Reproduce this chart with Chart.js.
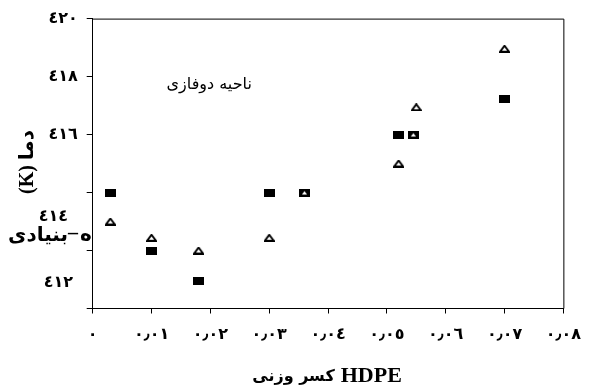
<!DOCTYPE html>
<html>
<head>
<meta charset="utf-8">
<script src="https://cdn.jsdelivr.net/npm/chart.js@4/dist/chart.umd.min.js"></script>
<style>
  html, body { margin: 0; padding: 0; background: #fff; }
  #wrap { width: 593px; height: 387px; position: relative; }
</style>
</head>
<body>
<div id="wrap"><canvas id="c" width="593" height="387"></canvas></div>
<script>
// ---- data ----
const squareX = [0.003, 0.010, 0.018, 0.030, 0.036, 0.052, 0.0545, 0.070];
const squareY = [414.0, 412.0, 410.95, 414.0, 414.0, 416.0, 416.0, 417.23];
const triangleX = [0.003, 0.010, 0.018, 0.030, 0.036, 0.052, 0.0545, 0.055, 0.070];
const triangleY = [413.0, 412.44, 412.0, 412.44, 414.0, 415.0, 416.0, 416.94, 418.96];

const xTickValues = [0, 0.01, 0.02, 0.03, 0.04, 0.05, 0.06, 0.07, 0.08];
const xTickLabels = ['٠', '٠٫٠١', '٠٫٠٢', '٠٫٠٣', '٠٫٠٤', '٠٫٠٥', '٠٫٠٦', '٠٫٠٧', '٠٫٠٨'];
const yTickValues = [410, 412, 414, 416, 418, 420];
const yTickLabelsOnAxis = ['', '', '', '٤١٦', '٤١٨', '٤٢٠'];
// labels that appear displaced in the reference
const yShiftedLabels = ['٤١٤', '٤١٢'];
const yShiftedLabelValues = [413.17, 410.89];

const xTitleFa = 'کسر وزنی';
const xTitleEn = 'HDPE';
const yTitleRotated = '(K) دما';
const yTitleFlat = 'بنیادی';
const yTitleDash = '–';
const yTitleCut = 'ه';
const noteText = 'ناحیه دوفازی';
const notePos = [0.0198, 417.73];

// ---- marker images ----
function makeSquare() {
  const c = document.createElement('canvas');
  c.width = 11; c.height = 8;
  const g = c.getContext('2d');
  g.fillStyle = '#000';
  g.fillRect(0, 0, 11, 8);
  return c;
}
function makeTriangle() {
  const c = document.createElement('canvas');
  c.width = 11; c.height = 8;
  const g = c.getContext('2d');
  g.beginPath();
  g.moveTo(5.5, 1);
  g.lineTo(10, 7);
  g.lineTo(1, 7);
  g.closePath();
  g.fillStyle = '#fff';
  g.fill();
  g.lineWidth = 2;
  g.strokeStyle = '#000';
  g.lineJoin = 'miter';
  g.stroke();
  return c;
}

const FONT = "'Liberation Serif', 'DejaVu Sans', serif";
const FA_FONT = "'DejaVu Sans', sans-serif";

const extras = {
  id: 'extras',
  afterDraw(chart) {
    const ctx = chart.ctx;
    const a = chart.chartArea;
    const xs = chart.scales.x, ys = chart.scales.y;
    ctx.save();
    // frame (top and right)
    ctx.strokeStyle = '#000';
    ctx.lineWidth = 1;
    ctx.beginPath();
    ctx.moveTo(a.left, a.top + 0.5);
    ctx.lineTo(a.right + 0.5, a.top + 0.5);
    ctx.lineTo(a.right + 0.5, a.bottom);
    ctx.stroke();

    ctx.fillStyle = '#000';
    // displaced y labels
    ctx.font = "bold 16px " + FONT;
    ctx.textAlign = 'right';
    ctx.textBaseline = 'middle';
    const shiftedRight = [68, 73];
    yShiftedLabels.forEach((t, i) => {
      ctx.fillText(t, shiftedRight[i], ys.getPixelForValue(yShiftedLabelValues[i]));
    });

    // y title pieces
    ctx.font = "bold 20px " + FONT;
    ctx.save();
    ctx.translate(28, 162);
    ctx.rotate(-Math.PI / 2);
    ctx.textAlign = 'center';
    ctx.textBaseline = 'middle';
    ctx.fillText(yTitleRotated, 0, 0);
    ctx.restore();
    ctx.textBaseline = 'middle';
    ctx.textAlign = 'right';
    ctx.fillText(yTitleFlat, 68, 236);
    ctx.textAlign = 'left';
    ctx.fillText(yTitleDash, 68, 234);
    ctx.save();
    ctx.beginPath();
    ctx.rect(78, 225, 13, 30);
    ctx.clip();
    ctx.fillText(yTitleCut, 80, 236);
    ctx.restore();

    // x title (two runs drawn side by side)
    ctx.textBaseline = 'alphabetic';
    ctx.textAlign = 'left';
    const gap = 6;
    ctx.font = "bold 16px " + FA_FONT;
    const wFa = ctx.measureText(xTitleFa).width;
    ctx.font = "bold 22px 'Liberation Serif', serif";
    const wEn = ctx.measureText(xTitleEn).width;
    const total = wFa + gap + wEn;
    const x0 = (a.left + a.right) / 2 - 1 - total / 2;
    ctx.fillText(xTitleEn, x0 + wFa + gap, 382);
    ctx.font = "bold 16px " + FA_FONT;
    ctx.fillText(xTitleFa, x0, 381);

    // annotation
    ctx.font = "16px 'DejaVu Sans', sans-serif";
    ctx.textAlign = 'center';
    ctx.textBaseline = 'middle';
    ctx.fillText(noteText, xs.getPixelForValue(notePos[0]), ys.getPixelForValue(notePos[1]));
    ctx.restore();
  }
};

const toPts = (xs, ys) => xs.map((x, i) => ({ x: x, y: ys[i] }));

new Chart(document.getElementById('c'), {
  type: 'scatter',
  data: {
    datasets: [
      { label: 'tri', data: toPts(triangleX, triangleY), pointStyle: makeTriangle(), pointRadius: 5, order: 0 },
      { label: 'sq', data: toPts(squareX, squareY), pointStyle: makeSquare(), pointRadius: 5, order: 1 }
    ]
  },
  options: {
    responsive: false,
    animation: false,
    devicePixelRatio: 1,
    layout: { padding: { top: 17, right: 19, left: 0, bottom: 0 } },
    plugins: { legend: { display: false }, tooltip: { enabled: false } },
    scales: {
      x: {
        type: 'linear', min: 0, max: 0.08,
        afterBuildTicks: s => { s.ticks = xTickValues.map(v => ({ value: v })); },
        afterFit: s => { s.height = 78.5; },
        grid: { drawOnChartArea: false, tickLength: 5, color: '#000' },
        border: { color: '#000', width: 1 },
        ticks: {
          autoSkip: false, maxRotation: 0, padding: 12, color: '#000',
          font: { family: FONT, size: 16, weight: 'bold' },
          callback: (v) => {
            const i = xTickValues.findIndex(t => Math.abs(t - v) < 1e-9);
            return i >= 0 ? xTickLabels[i] : '';
          }
        }
      },
      y: {
        type: 'linear', min: 410, max: 420,
        afterBuildTicks: s => { s.ticks = yTickValues.map(v => ({ value: v })); },
        afterFit: s => { s.width = 92.7; },
        grid: { drawOnChartArea: false, tickLength: 6, color: '#000' },
        border: { color: '#000', width: 1 },
        ticks: {
          autoSkip: false, padding: 9, color: '#000',
          font: { family: FONT, size: 16, weight: 'bold' },
          callback: (v) => {
            const i = yTickValues.findIndex(t => Math.abs(t - v) < 1e-9);
            return i >= 0 ? yTickLabelsOnAxis[i] : '';
          }
        }
      }
    }
  },
  plugins: [extras]
});
</script>
</body>
</html>
